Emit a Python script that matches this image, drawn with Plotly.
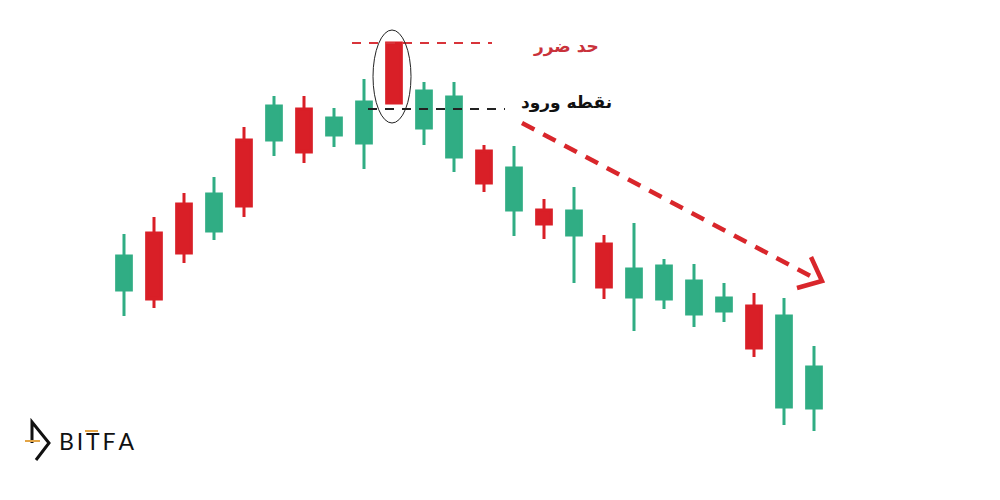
import plotly.graph_objects as go

# ---- data (price units; teal candles = bullish, red = bearish) ----
t = list(range(24))
high  = [266, 283, 307, 323, 373, 404, 404, 392, 421, 457, 418, 418, 355, 354, 301, 313, 265, 277, 241, 236, 217, 207, 202, 154]
low   = [184, 192, 237, 260, 283, 344, 337, 353, 331, 397, 355, 328, 308, 264, 261, 217, 201, 169, 191, 173, 178, 143,  75,  69]
body_top = [244, 267, 296, 306, 360, 394, 391, 382, 398, 457, 409, 403, 349, 332, 290, 289, 256, 231, 234, 219, 202, 194, 184, 133]
body_bot = [210, 201, 247, 269, 294, 360, 348, 365, 357, 397, 372, 343, 317, 290, 276, 265, 213, 203, 201, 186, 189, 152,  93,  92]
bullish  = [1, 0, 0, 1, 0, 1, 0, 1, 1, 0, 1, 1, 0, 1, 0, 1, 0, 1, 1, 1, 1, 0, 1, 1]

open_ = [b if u else tp for b, tp, u in zip(body_bot, body_top, bullish)]
close = [tp if u else b for b, tp, u in zip(body_bot, body_top, bullish)]

stop_loss = 457     # حد ضرر level (top of the signal candle)
entry = 394         # نقطه ورود level

TEAL = "#30ad84"
RED = "#d91f27"

# page-pixel helpers for decorative elements (page has an 8px body margin)
M = 8
X0, DX = 124 - M, 30
def px(x):
    return (x - M - X0) / DX
def py(y):
    return 500 - y

fig = go.Figure(go.Candlestick(
    x=t, open=open_, high=high, low=low, close=close,
    increasing=dict(line=dict(color=TEAL, width=3), fillcolor=TEAL),
    decreasing=dict(line=dict(color=RED, width=3), fillcolor=RED),
    whiskerwidth=0, hoverinfo="skip", showlegend=False,
))

shapes = []
# stop-loss dashed line
shapes.append(dict(type="line", xref="x", yref="y", x0=px(352), x1=px(492), y0=stop_loss, y1=stop_loss,
                   line=dict(color="#d8343a", width=2, dash="9px,8px")))
# entry dashed line
shapes.append(dict(type="line", xref="x", yref="y", x0=px(368), x1=px(505), y0=entry - 3, y1=entry - 3,
                   line=dict(color="#222222", width=2, dash="9px,8px")))
# ellipse around signal candle
shapes.append(dict(type="circle", xref="x", yref="y", x0=px(373), x1=px(411), y0=py(123), y1=py(30),
                   line=dict(color="#222222", width=1)))
# red dashed trend arrow
shapes.append(dict(type="line", xref="x", yref="y", x0=px(522), y0=py(123), x1=px(818), y1=py(280),
                   line=dict(color="#d9262b", width=4.5, dash="14px,10px")))
shapes.append(dict(type="path", xref="x", yref="y",
                   path=f"M{px(811)},{py(257)} L{px(822)},{py(281)} L{px(797)},{py(288)}",
                   line=dict(color="#d9262b", width=4.5)))
# logo glyph
shapes.append(dict(type="path", xref="x", yref="y",
                   path=f"M{px(32)},{py(443)} L{px(32)},{py(422)} L{px(49)},{py(443)} L{px(36)},{py(460)}",
                   line=dict(color="#111111", width=3)))
shapes.append(dict(type="line", xref="x", yref="y", x0=px(25), x1=px(40), y0=py(441), y1=py(441),
                   line=dict(color="#e3a445", width=2)))
shapes.append(dict(type="line", xref="x", yref="y", x0=px(85), x1=px(98), y0=py(431), y1=py(431),
                   line=dict(color="#e3a445", width=2)))

annotations = [
    dict(x=px(601), y=py(46), xref="x", yref="y", text="<b>حد ضرر</b>", showarrow=False,
         xanchor="right", yanchor="middle",
         font=dict(family="DejaVu Sans", size=17, color="#c9323b")),
    dict(x=px(614), y=py(102), xref="x", yref="y", text="<b>نقطه ورود</b>", showarrow=False,
         xanchor="right", yanchor="middle",
         font=dict(family="DejaVu Sans", size=17, color="#111111")),
    dict(x=px(57), y=py(441), xref="x", yref="y", text="B\u2009I\u2009T\u2009F\u2009A", showarrow=False,
         xanchor="left", yanchor="middle",
         font=dict(family="Lato", size=23, color="#111111")),
]

fig.update_layout(
    width=1000, height=500,
    margin=dict(l=0, r=0, t=0, b=0),
    paper_bgcolor="white", plot_bgcolor="white",
    boxgap=0.3,
    xaxis=dict(range=[px(M), px(1000 + M)], visible=False, rangeslider=dict(visible=False), fixedrange=True),
    yaxis=dict(range=[py(500 + M), py(M)], visible=False, fixedrange=True),
    shapes=shapes, annotations=annotations,
    showlegend=False,
)

fig.write_html("out.html")
